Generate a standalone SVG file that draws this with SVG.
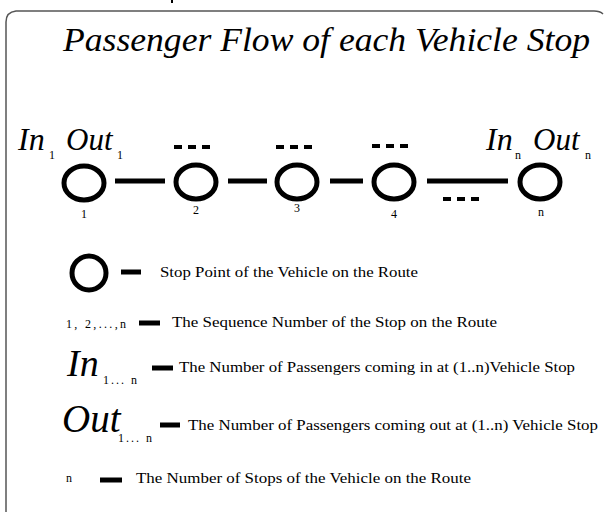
<svg xmlns="http://www.w3.org/2000/svg" width="604" height="514" viewBox="0 0 604 514">
<style>
.stop{fill:none;stroke:#000;stroke-width:5}
.edge{stroke:#000;stroke-width:5;fill:none}
.dots{stroke:#000;stroke-width:4;stroke-dasharray:8 6;fill:none}
.ti{font-family:"Liberation Serif","Times New Roman",serif;font-style:italic;fill:#000}
.t{font-family:"Liberation Serif","Times New Roman",serif;fill:#000}
.lab{font-family:"Liberation Serif","Times New Roman",serif;font-size:12px;fill:#000;text-anchor:middle}
</style>
<rect width="604" height="514" fill="#fff"/>
<path d="M6,512 L6,22 Q6,12 16,11 L594,11 Q600,11 603,14" fill="none" stroke="#555" stroke-width="1.5"/>
<rect x="171" y="0" width="2" height="3" fill="#000"/>
<text class="ti" x="63" y="51" font-size="34" textLength="527" lengthAdjust="spacingAndGlyphs">Passenger Flow of each Vehicle Stop</text>

<g id="io1">
<text class="ti" x="18" y="150" font-size="32">In</text>
<text class="t" x="49" y="159" font-size="12">1</text>
<text class="ti" x="66" y="150" font-size="31">Out</text>
<text class="t" x="117" y="159" font-size="12">1</text>
</g>
<g id="ion">
<text class="ti" x="486" y="150" font-size="32">In</text>
<text class="t" x="515" y="159" font-size="12">n</text>
<text class="ti" x="533" y="150" font-size="31">Out</text>
<text class="t" x="585" y="159" font-size="12">n</text>
</g>

<g id="connectors">
<line class="edge" x1="115" y1="181" x2="165" y2="181"/>
<line class="edge" x1="228" y1="181" x2="267" y2="181"/>
<line class="edge" x1="330" y1="181" x2="363" y2="181"/>
<line class="edge" x1="427" y1="181" x2="508" y2="181"/>
</g>

<g id="stop1"><ellipse class="stop" cx="84" cy="183" rx="20" ry="17"/><text class="lab" x="84" y="218">1</text></g>
<g id="stop2"><ellipse class="stop" cx="196" cy="182" rx="20" ry="17"/><text class="lab" x="196" y="214">2</text><path class="dots" d="M174,147 H214"/></g>
<g id="stop3"><ellipse class="stop" cx="297" cy="182" rx="20" ry="17"/><text class="lab" x="297" y="212">3</text><path class="dots" d="M276,147 H316"/></g>
<g id="stop4"><ellipse class="stop" cx="394" cy="182" rx="20" ry="17"/><text class="lab" x="394" y="218">4</text><path class="dots" d="M372,146 H412"/></g>
<g id="stopn"><ellipse class="stop" cx="540" cy="182" rx="20" ry="17"/><text class="lab" x="541" y="216">n</text></g>
<path class="dots" d="M443,199 H483"/>

<g id="legend">
<ellipse class="stop" cx="89" cy="273" rx="17" ry="17"/>
<line class="edge" x1="121" y1="272" x2="141" y2="272"/>
<text class="t" x="160" y="277" font-size="14" textLength="258" lengthAdjust="spacingAndGlyphs">Stop Point of the Vehicle on the Route</text>

<text class="t" x="66" y="328" font-size="12" textLength="60" lengthAdjust="spacing">1, 2,...,n</text>
<line class="edge" x1="139" y1="323" x2="160" y2="323"/>
<text class="t" x="172" y="327" font-size="14" textLength="325" lengthAdjust="spacingAndGlyphs">The Sequence Number of the Stop on the Route</text>

<text class="ti" x="67" y="376" font-size="38">In</text>
<text class="t" x="103" y="384" font-size="12" textLength="34" lengthAdjust="spacing">1... n</text>
<line class="edge" x1="152" y1="368" x2="173" y2="368"/>
<text class="t" x="179" y="372" font-size="14" textLength="396" lengthAdjust="spacingAndGlyphs">The Number of Passengers coming in at (1..n)Vehicle Stop</text>

<text class="ti" x="62" y="432" font-size="39">Out</text>
<text class="t" x="118" y="442" font-size="12" textLength="34" lengthAdjust="spacing">1... n</text>
<line class="edge" x1="160" y1="425" x2="180" y2="425"/>
<text class="t" x="188" y="430" font-size="14" textLength="410" lengthAdjust="spacingAndGlyphs">The Number of Passengers coming out at (1..n) Vehicle Stop</text>

<text class="t" x="66" y="482" font-size="12">n</text>
<line class="edge" x1="100" y1="480" x2="122" y2="480"/>
<text class="t" x="136" y="483" font-size="14" textLength="335" lengthAdjust="spacingAndGlyphs">The Number of Stops of the Vehicle on the Route</text>
</g>
</svg>
